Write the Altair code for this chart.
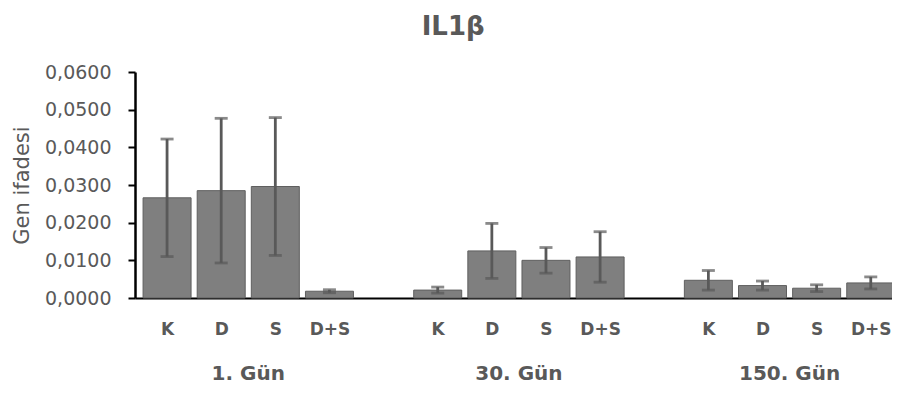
import json
import altair as alt
import pandas as pd

# ---- data ----
groups = ["1. Gün", "30. Gün", "150. Gün"]
categories = ["K", "D", "S", "D+S"]

mean_day1 = [0.0266, 0.0285, 0.0296, 0.0018]
mean_day30 = [0.0021, 0.0125, 0.0100, 0.0109]
mean_day150 = [0.0047, 0.0033, 0.0026, 0.0040]

err_day1 = [0.0156, 0.0192, 0.0183, 0.0004]
err_day30 = [0.0008, 0.0073, 0.0034, 0.0067]
err_day150 = [0.0026, 0.0012, 0.0009, 0.0016]

y_ticks = [0.0, 0.01, 0.02, 0.03, 0.04, 0.05, 0.06]

means = [mean_day1, mean_day30, mean_day150]
errs = [err_day1, err_day30, err_day150]

rows = []
slots_per_group = len(categories) + 1  # one empty category slot between groups
for gi, g in enumerate(groups):
    for ci, c in enumerate(categories):
        rows.append({
            "group": g,
            "cat": c,
            "pos": gi * slots_per_group + ci,
            "mean": means[gi][ci],
            "err": errs[gi][ci],
        })
df = pd.DataFrame(rows)
positions = list(df["pos"])

GREY = "#595959"
FONT = "DejaVu Sans"

x_axis = alt.Axis(
    values=positions,
    labelExpr=json.dumps(categories) + "[datum.value % " + str(slots_per_group) + "]",
    labelFont=FONT, labelFontWeight="bold", labelFontSize=17, labelColor=GREY,
    labelPadding=23, ticks=False, grid=False,
    domainColor="black", domainWidth=2, title=None,
)
x_enc = dict(
    scale=alt.Scale(domain=[-0.5, 13.3], nice=False, zero=False),
    axis=x_axis, title=None,
)

y_axis = alt.Axis(
    values=y_ticks,
    labelExpr="replace(format(datum.value, '.4f'), '.', ',')",
    labelFont=FONT, labelFontSize=19, labelColor=GREY, labelPadding=17,
    tickColor="black", tickWidth=2, tickSize=7,
    domainColor="black", domainWidth=2.5, grid=False,
    title="Gen ifadesi", titleFont=FONT, titleFontSize=21, titleFontWeight="normal",
    titleColor=GREY, titleX=-113, titleY=113, titleBaseline="middle", titleAngle=270,
)
y_scale = alt.Scale(domain=[0, 0.06], nice=False)

base = alt.Chart(df).transform_calculate(
    lo="datum.mean - datum.err", hi="datum.mean + datum.err"
)

bars = base.mark_bar(size=48, color="#7f7f7f", stroke="#5f5f5f", strokeWidth=1).encode(
    x=alt.X("pos:Q", **x_enc),
    y=alt.Y("mean:Q", scale=y_scale, axis=y_axis, title="Gen ifadesi"),
)

rules = base.mark_rule(color=GREY, strokeWidth=2.8).encode(
    x=alt.X("pos:Q", **x_enc),
    y=alt.Y("lo:Q", scale=y_scale, axis=y_axis, title="Gen ifadesi"),
    y2="hi:Q",
)

caps_lo = base.mark_tick(orient="horizontal", size=13, thickness=2.8, color=GREY).encode(
    x=alt.X("pos:Q", **x_enc),
    y=alt.Y("lo:Q", scale=y_scale, axis=y_axis, title="Gen ifadesi"),
)
caps_hi = base.mark_tick(orient="horizontal", size=13, thickness=2.8, color=GREY).encode(
    x=alt.X("pos:Q", **x_enc),
    y=alt.Y("hi:Q", scale=y_scale, axis=y_axis, title="Gen ifadesi"),
)

group_labels = alt.Chart(df).transform_aggregate(
    center="mean(pos)", groupby=["group"]
).mark_text(
    font=FONT, fontWeight="bold", fontSize=20, color=GREY, baseline="alphabetic"
).encode(
    x=alt.X("center:Q", **x_enc),
    y=alt.value(308),
    text="group:N",
)

chart = alt.layer(bars, rules, caps_lo, caps_hi, group_labels).properties(
    width=757,
    height=226,
    autosize=alt.AutoSizeParams(type="none"),
    padding={"left": 127, "top": 64, "right": 0, "bottom": 90},
    title=alt.TitleParams(
        "IL1β", font=FONT, fontWeight="bold", fontSize=26, color=GREY,
        anchor="middle", frame="bounds", offset=23,
    ),
).configure_view(stroke=None)

chart.save("out.html", embed_options={"renderer": "svg", "actions": False})
